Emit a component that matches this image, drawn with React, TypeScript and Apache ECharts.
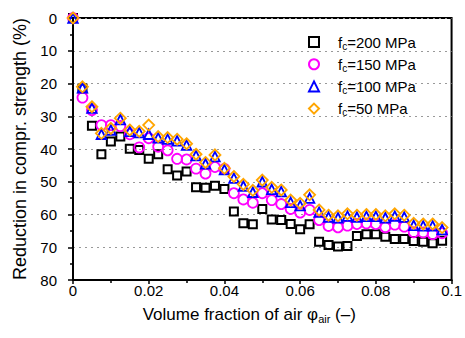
import React, { useEffect, useRef } from "react";
import * as echarts from "echarts";

const airFraction = [0, 0.0025, 0.005, 0.0075, 0.01, 0.0125, 0.015, 0.0175, 0.02, 0.0225, 0.025, 0.0275, 0.03, 0.0325, 0.035, 0.0375, 0.04, 0.0425, 0.045, 0.0475, 0.05, 0.0525, 0.055, 0.0575, 0.06, 0.0625, 0.065, 0.0675, 0.07, 0.0725, 0.075, 0.0775, 0.08, 0.0825, 0.085, 0.0875, 0.09, 0.0925, 0.095, 0.0975];

const fc200 = [0, 21.5, 32.9, 41.6, 37.7, 36.2, 39.9, 40.3, 43.0, 41.6, 46.2, 48.1, 46.9, 51.7, 51.8, 51.2, 52.2, 59.1, 62.7, 63.0, 58.3, 61.5, 61.7, 62.9, 64.5, 63.0, 68.3, 69.3, 69.8, 69.6, 66.6, 66.0, 66.0, 66.8, 67.5, 67.5, 68.1, 68.3, 68.8, 68.0];
const fc150 = [0, 24.3, 28.1, 32.7, 32.7, 33.0, 35.5, 39.5, 36.7, 39.3, 40.4, 43.0, 43.2, 46.0, 47.5, 45.5, 46.1, 53.5, 55.4, 56.4, 53.5, 55.6, 56.8, 58.3, 59.4, 58.6, 61.7, 63.5, 63.9, 63.4, 62.9, 62.7, 62.9, 63.9, 63.1, 63.7, 65.4, 65.5, 66.0, 65.7];
const fc100 = [0, 21.3, 27.5, 35.5, 34.2, 31.0, 34.6, 35.0, 35.5, 36.6, 37.0, 37.5, 38.8, 42.0, 44.5, 42.3, 46.3, 48.9, 51.3, 53.2, 50.0, 52.3, 53.0, 56.3, 57.3, 55.0, 59.3, 60.8, 61.0, 60.5, 60.8, 60.6, 60.6, 61.0, 60.5, 60.8, 63.3, 63.5, 63.5, 64.6];
const fc50 = [0, 21.0, 27.1, 35.2, 33.7, 30.6, 34.2, 34.6, 32.7, 36.2, 36.5, 37.0, 38.4, 41.6, 44.1, 41.8, 45.9, 48.4, 50.8, 52.6, 49.5, 51.7, 52.5, 55.6, 56.6, 54.0, 58.6, 60.2, 60.4, 59.8, 60.2, 60.0, 60.0, 60.4, 59.8, 60.2, 62.7, 62.9, 62.9, 64.0];

const seriesNames = ["fc=200 MPa", "fc=150 MPa", "fc=100 MPa", "fc=50 MPa"];
const xTickLabels = ["0", "0.02", "0.04", "0.06", "0.08", "0.1"];

const FONT = "'Liberation Sans', Arial, Helvetica, sans-serif";

function pairs(ys: number[]) {
  return airFraction.map((x, i) => [x, ys[i]]);
}

export default function App() {
  const ref = useRef<HTMLDivElement>(null);
  useEffect(() => {
    if (!ref.current) return;
    const chart = echarts.init(ref.current, null, { renderer: "svg" });
    const mk = (name: string, data: number[], symbol: string, size: number, color: string, bw: number) => ({
      name,
      type: "scatter",
      data: pairs(data),
      symbol,
      symbolSize: size,
      itemStyle: { color: "transparent", borderColor: color, borderWidth: bw, opacity: 1 },
      emphasis: { disabled: true },
    });
    chart.setOption({
      animation: false,
      textStyle: { fontFamily: FONT },
      grid: { left: 73, right: 13, top: 18, bottom: 58, show: true, borderColor: "#000", borderWidth: 2, backgroundColor: "transparent" },
      legend: {
        orient: "vertical",
        left: 308,
        top: 34.5,
        padding: 0,
        itemWidth: 10,
        itemHeight: 10,
        itemGap: 5.7,
        data: seriesNames,
        formatter: (name: string) => `{f|f}{s|c}{n|${name.slice(2)}}`,
        textStyle: {
          fontSize: 15,
          color: "#000",
          fontFamily: FONT,
          rich: {
            f: { fontSize: 15, color: "#000", fontFamily: FONT, padding: [0, 0, 0, 14] },
            n: { fontSize: 15, color: "#000", fontFamily: FONT },
            s: { fontSize: 10, color: "#000", fontFamily: FONT, padding: [8, 0, 0, 0] },
          },
        },
      },
      xAxis: {
        type: "value",
        min: 0,
        max: 0.1,
        interval: 0.02,
        axisLine: { show: true, onZero: false, lineStyle: { color: "#000", width: 2 } },
        axisTick: { show: true, inside: false, length: 4, lineStyle: { color: "#000", width: 1.5 } },
        minorTick: { show: true, splitNumber: 2, length: 3, lineStyle: { color: "#000", width: 1.5 } },
        axisLabel: {
          fontSize: 15,
          color: "#000",
          margin: 3,
          fontFamily: FONT,
          formatter: (v: number) => xTickLabels[Math.round(v / 0.02)] ?? String(v),
        },
        splitLine: { show: false },
        name: "Volume fraction of air φ{s|air} (–)",
        nameLocation: "middle",
        nameGap: 25,
        nameTextStyle: {
          fontSize: 17,
          color: "#000",
          fontFamily: FONT,
          padding: [0, 26, 0, 0],
          rich: { s: { fontSize: 11, color: "#000", fontFamily: FONT, padding: [8, 0, 0, 0] } },
        },
      },
      yAxis: {
        type: "value",
        inverse: true,
        min: 0,
        max: 80,
        interval: 10,
        axisLine: { show: true, onZero: false, lineStyle: { color: "#000", width: 2 } },
        axisTick: { show: true, inside: false, length: 5, lineStyle: { color: "#000", width: 1.5 } },
        minorTick: { show: true, splitNumber: 2, length: 3, lineStyle: { color: "#000", width: 1.5 } },
        axisLabel: { fontSize: 15, color: "#000", margin: 16, fontFamily: FONT },
        splitLine: { show: true, lineStyle: { color: "#999", width: 1, type: [2, 4] } },
        name: "Reduction in compr. strength (%)",
        nameLocation: "middle",
        nameRotate: 90,
        nameGap: 44,
        nameTextStyle: { fontSize: 18, color: "#000", fontFamily: FONT },
      },
      series: [
        mk(seriesNames[0], fc200, "rect", 8, "#000000", 2),
        mk(seriesNames[1], fc150, "circle", 10, "#ff00ff", 1.8),
        mk(seriesNames[2], fc100, "triangle", 9.5, "#0000ff", 1.8),
        mk(seriesNames[3], fc50, "diamond", 11, "#ffa500", 1.8),
      ],
    });
    return () => chart.dispose();
  }, []);
  return <div ref={ref} style={{ width: 465, height: 338, position: "absolute", left: 0, top: 0 }} />;
}
